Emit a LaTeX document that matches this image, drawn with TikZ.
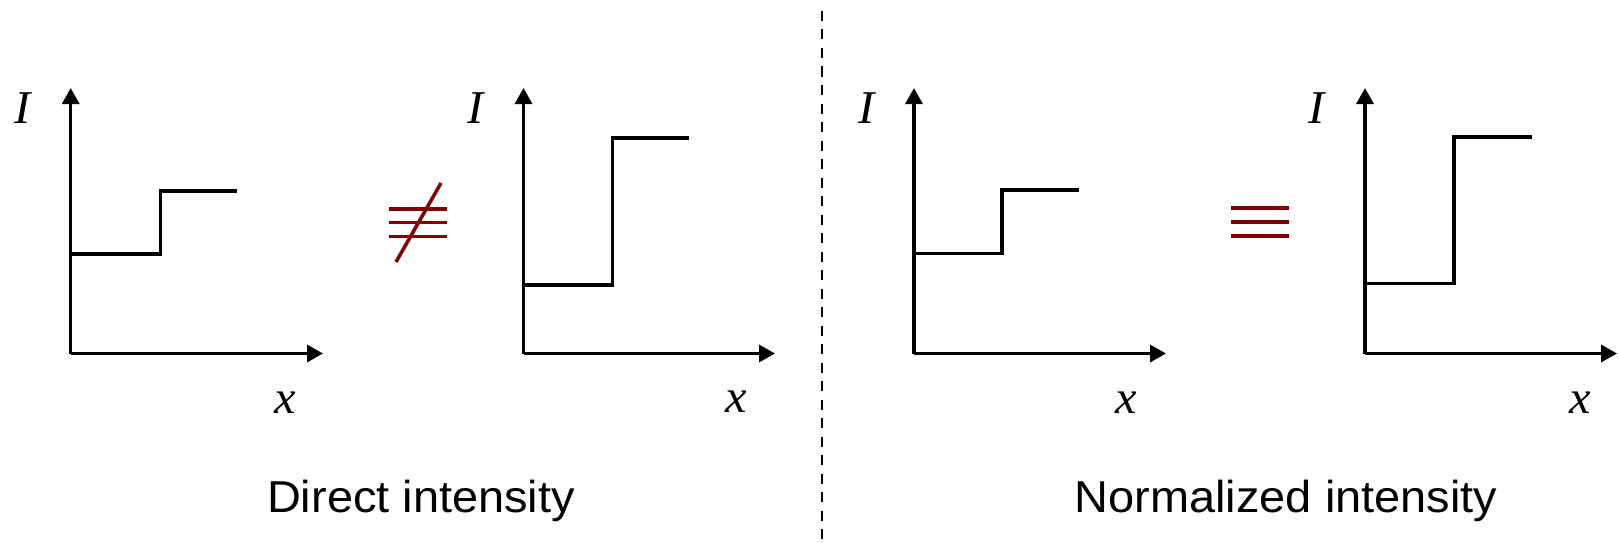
\documentclass[tikz,border=0pt]{standalone}
\usepackage{fontspec}
\setmainfont{Liberation Sans}
\newfontfamily\tnr{Liberation Serif}
\usetikzlibrary{arrows.meta}
\definecolor{maroon}{RGB}{128,0,0}
\tikzset{
  axis/.style={line width=3.3pt,-{Triangle[length=16pt,width=17pt]}},
  stepline/.style={line width=3.2pt},
  eqline/.style={line width=3.5pt,maroon},
  varlabel/.style={inner sep=0pt,xscale=1.03,font=\fontsize{47pt}{56pt}\selectfont\tnr\itshape},
  caption/.style={inner sep=0pt,anchor=base,xscale=1.05,font=\fontsize{44.7pt}{53pt}\selectfont},
  divider/.style={line width=2.2pt,dash pattern=on 10pt off 8.5pt}
}
\begin{document}
\begin{tikzpicture}[x=1pt,y=-1pt]
\useasboundingbox (0,0) rectangle (1619,543);
% graph 1
\coordinate (o1) at (70.7,353.5);
\draw[axis] (o1) -- (70.7,88);
\draw[axis] (o1) -- (323,353.5);
\draw[stepline] (70.7,254) -- (160.7,254) -- (160.7,191) -- (237,191);
\node[varlabel] (I1) at (22.5,108) {I};
\node[varlabel] (x1) at (285,403) {x};
% not equal
\draw[eqline] (389,209) -- (447,209);
\draw[eqline] (389,222.5) -- (447,222.5);
\draw[eqline] (389,236.5) -- (447,236.5);
\draw[eqline] (396,262) -- (441,183);
% graph 2
\coordinate (o2) at (523.5,353.5);
\draw[axis] (o2) -- (523.5,88);
\draw[axis] (o2) -- (775,353.5);
\draw[stepline] (523.5,285) -- (612.5,285) -- (612.5,138) -- (689,138);
\node[varlabel] (I2) at (476,108) {I};
\node[varlabel] (x2) at (736,402) {x};
% divider
\draw[divider] (822,11) -- (822,543);
% graph 3
\coordinate (o3) at (914,353.5);
\draw[axis] (o3) -- (914,88);
\draw[axis] (o3) -- (1166,353.5);
\draw[stepline] (914,253.5) -- (1002,253.5) -- (1002,190) -- (1079,190);
\node[varlabel] (I3) at (867,108) {I};
\node[varlabel] (x3) at (1126,403) {x};
% equal
\draw[eqline] (1231,208) -- (1289,208);
\draw[eqline] (1231,222) -- (1289,222);
\draw[eqline] (1231,236) -- (1289,236);
% graph 4
\coordinate (o4) at (1365,353.5);
\draw[axis] (o4) -- (1365,88);
\draw[axis] (o4) -- (1617,353.5);
\draw[stepline] (1365,283.5) -- (1454,283.5) -- (1454,137) -- (1532,137);
\node[varlabel] (I4) at (1317,108) {I};
\node[varlabel] (x4) at (1580,403) {x};
% captions
\node[caption] (c1) at (421,512) {Direct intensity};
\node[caption] (c2) at (1286,512) {Normalized intensity};
\end{tikzpicture}
\end{document}
